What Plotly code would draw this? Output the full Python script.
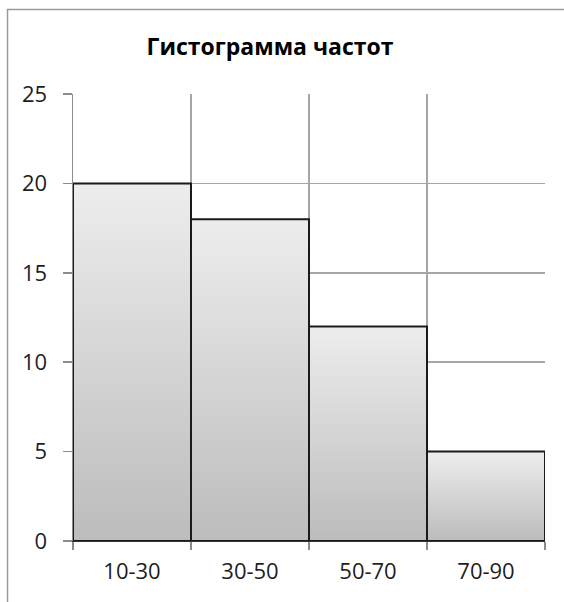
import plotly.graph_objects as go

# Frequency histogram data
categories = ["10-30", "30-50", "50-70", "70-90"]
frequencies = [20, 18, 12, 5]
y_ticks = [0, 5, 10, 15, 20, 25]

title_text = "Гистограмма частот"

fig = go.Figure()

# Each bin is drawn as a closed polygon so it can carry a vertical gradient
for i, (cat, val) in enumerate(zip(categories, frequencies)):
    fig.add_trace(go.Scatter(
        x=[i, i, i + 1, i + 1, i],
        y=[0, val, val, 0, 0],
        mode="lines",
        fill="toself",
        fillgradient=dict(
            type="vertical",
            start=0,
            stop=val,
            colorscale=[[0, "#bcbcbc"], [1, "#ededed"]],
        ),
        line=dict(color="#1a1a1a", width=2),
        hoverinfo="skip",
        showlegend=False,
        name=cat,
    ))

font_family = "Open Sans, Lato, DejaVu Sans, sans-serif"
W, H = 564, 602
ml, mr, mt, mb = 73, 19, 94, 61
pw, ph = W - ml - mr, H - mt - mb

def px_to_paper_x(px):
    return (px - ml) / pw

def px_to_paper_y(py):
    return (H - mb - py) / ph

# chart area frame: only the left and top sides fall inside the page
fx0, fx1 = px_to_paper_x(7.5), px_to_paper_x(W + 20)
fy0, fy1 = px_to_paper_y(H + 20), px_to_paper_y(9.5)
frame_path = f"M {fx0},{fy0} L {fx0},{fy1} L {fx1},{fy1}"

fig.update_layout(
    width=W,
    height=H,
    margin=dict(l=ml, r=mr, t=mt, b=mb),
    paper_bgcolor="white",
    plot_bgcolor="white",
    font=dict(family=font_family, size=22, color="#1e1e1e"),
    title=dict(
        text="<b>" + title_text + "</b>",
        x=px_to_paper_x(270),
        xref="paper",
        xanchor="center",
        y=1 - 47 / H,
        yanchor="middle",
        font=dict(family=font_family, size=23, color="#000000"),
    ),
    xaxis=dict(
        range=[0, len(categories)],
        tickmode="array",
        tickvals=[i + 0.5 for i in range(len(categories))],
        ticktext=categories,
        ticks="",
        showgrid=False,
        zeroline=False,
        showline=True,
        linecolor="#333333",
        linewidth=1,
        ticklabelstandoff=11,
        tickfont=dict(size=22),
        minor=dict(
            tickmode="array",
            tickvals=list(range(len(categories) + 1)),
            ticks="outside",
            ticklen=8,
            tickcolor="#8c8c8c",
            tickwidth=1.5,
            showgrid=True,
            gridcolor="#a6a6a6",
            gridwidth=1.5,
        ),
        fixedrange=True,
    ),
    yaxis=dict(
        range=[0, 25],
        tickmode="array",
        tickvals=y_ticks,
        ticks="outside",
        ticklen=9,
        tickcolor="#8c8c8c",
        tickwidth=1.5,
        showgrid=True,
        gridcolor="#a6a6a6",
        gridwidth=1.5,
        zeroline=False,
        showline=True,
        linecolor="#8c8c8c",
        linewidth=1.5,
        ticklabelstandoff=11,
        tickfont=dict(size=22),
        fixedrange=True,
    ),
    shapes=[
        dict(
            type="path",
            xref="paper", yref="paper",
            path=frame_path,
            line=dict(color="#9a9a9a", width=1.5),
            fillcolor="rgba(0,0,0,0)",
            layer="below",
        )
    ],
)

fig.write_html("out.html", config={"displayModeBar": False, "staticPlot": True})
